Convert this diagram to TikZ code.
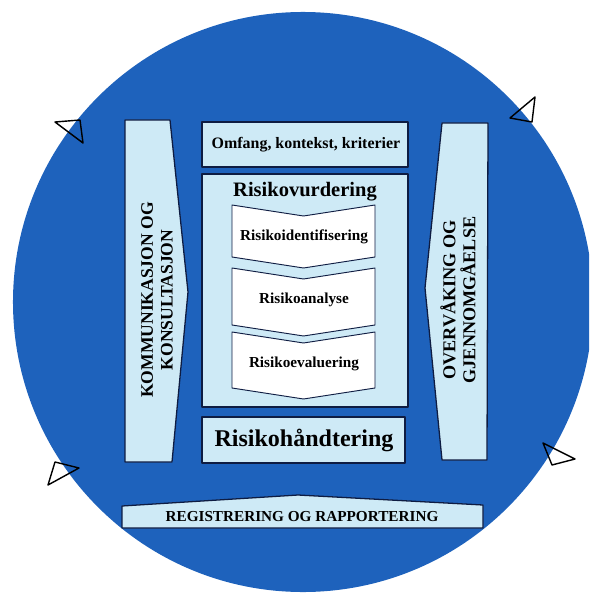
\documentclass[tikz,border=0pt]{standalone}
\usepackage{fontspec}
\setmainfont{Liberation Serif}
\definecolor{ringblue}{RGB}{30,98,188}
\definecolor{boxfill}{RGB}{206,234,246}
\definecolor{boxline}{RGB}{14,28,66}

\begin{document}
\begin{tikzpicture}[x=0.03cm,y=-0.03cm]
    \tikzstyle{panel}=[draw=boxline,line width=1.1pt,fill=boxfill,line join=round]
    \tikzstyle{stepbox}=[draw=boxline,line width=0.8pt,fill=white,line join=round]
    \tikzstyle{marker}=[draw=black,line width=1.2pt,line join=round]
    \tikzstyle{boxtext}=[inner sep=0pt,font=\bfseries\fontsize{13}{15}\selectfont]
    \tikzstyle{sidetext}=[inner sep=0pt,rotate=90,align=center,font=\bfseries\fontsize{15}{17}\selectfont]

    \useasboundingbox (0,0) rectangle (589,596);
    \clip (0,0) rectangle (589,596);

    % blue disc
    \fill[ringblue] (303,302) circle[radius=8.7cm];

    % side panels
    \draw[panel] (125,120) -- (170,120) -- (188,292) -- (172,462) -- (125,462) -- cycle;
    \draw[panel] (442,123) -- (488,123) -- (487,460) -- (442,460) -- (425,288) -- cycle;
    \node[sidetext] (komm) at (157,300) {KOMMUNIKASJON OG\\KONSULTASJON};
    \node[sidetext,font=\bfseries\fontsize{15.5}{17}\selectfont] (overv) at (458,300) {OVERVÅKING OG\\GJENNOMGÅELSE};

    % middle column
    \draw[panel] (202,122) rectangle (408,167);
    \node[boxtext,font=\bfseries\fontsize{13.6}{15}\selectfont] (omfang) at (306,145) {Omfang, kontekst, kriterier};

    \draw[panel] (202,174) rectangle (408,407);
    \node[boxtext,font=\bfseries\fontsize{17.5}{19}\selectfont] (vurd) at (305,192) {Risikovurdering};

    \foreach \t/\b in {205/257, 268/325, 332/388}
        \draw[stepbox] (232,\t) -- (303.5,\t+11) -- (375,\t) -- (375,\b) -- (303.5,\b+11) -- (232,\b) -- cycle;

    \foreach \name/\y/\txt in {ident/237/Risikoidentifisering, anal/300/Risikoanalyse, eval/364/Risikoevaluering}
        \node[boxtext] (\name) at (304,\y) {\txt};

    \draw[panel] (202,417) rectangle (405,463);
    \node[boxtext,font=\bfseries\fontsize{20.5}{22}\selectfont] (handt) at (304,440) {Risikohåndtering};

    % bottom bar
    \draw[panel] (122,506) -- (298,495) -- (483,505) -- (483,528) -- (122,528) -- cycle;
    \node[boxtext] (regist) at (302,517) {REGISTRERING OG RAPPORTERING};

    % rotation markers
    \draw[marker] (55,122) -- (80,120) -- (83,143) -- cycle;
    \draw[marker] (535,97) -- (510,118) -- (532,122) -- cycle;
    \draw[marker] (55,462) -- (79,468) -- (48,485) -- cycle;
    \draw[marker] (543,443) -- (575,459) -- (552,465) -- cycle;
\end{tikzpicture}
\end{document}
